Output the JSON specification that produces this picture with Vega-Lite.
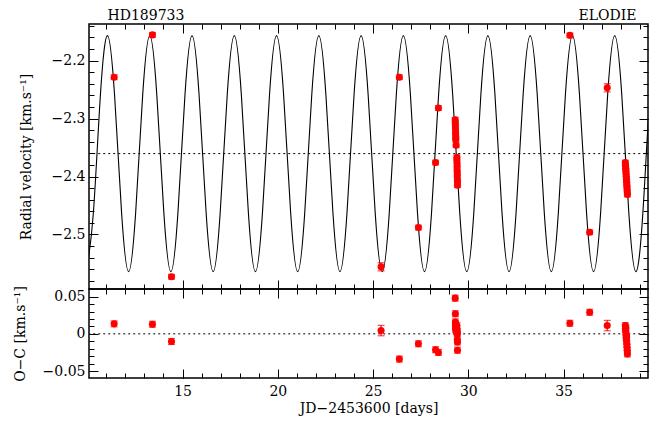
{
  "$schema": "https://vega.github.io/schema/vega-lite/v6.json",
  "background": "white",
  "padding": {"left": 12, "top": 7, "right": 4, "bottom": 4},
  "spacing": 0,
  "bounds": "flush",
  "config": {
    "view": {"stroke": "black", "strokeWidth": 1.5},
    "concat": {"spacing": 0},
    "axis": {
      "domain": false, "grid": false, "ticks": true, "tickColor": "black", "tickWidth": 1,
      "labelFont": "DejaVu Serif", "labelFontSize": 14, "labelColor": "black",
      "titleFont": "DejaVu Serif", "titleFontSize": 14, "titleFontWeight": "normal", "titleColor": "black"
    }
  },
  "datasets": {
    "curve": [
      {"t": 9.951, "rv": -2.564}, {"t": 10.320, "rv": -2.4623}, {"t": 10.690, "rv": -2.2588}, {"t": 11.060, "rv": -2.157},
      {"t": 11.430, "rv": -2.2588}, {"t": 11.800, "rv": -2.4623}, {"t": 12.169, "rv": -2.564}, {"t": 12.539, "rv": -2.4623},
      {"t": 12.909, "rv": -2.2588}, {"t": 13.279, "rv": -2.157}, {"t": 13.648, "rv": -2.2588}, {"t": 14.018, "rv": -2.4623},
      {"t": 14.388, "rv": -2.564}, {"t": 14.758, "rv": -2.4623}, {"t": 15.128, "rv": -2.2588}, {"t": 15.497, "rv": -2.157},
      {"t": 15.867, "rv": -2.2588}, {"t": 16.237, "rv": -2.4623}, {"t": 16.607, "rv": -2.564}, {"t": 16.976, "rv": -2.4623},
      {"t": 17.346, "rv": -2.2588}, {"t": 17.716, "rv": -2.157}, {"t": 18.086, "rv": -2.2588}, {"t": 18.455, "rv": -2.4623},
      {"t": 18.825, "rv": -2.564}, {"t": 19.195, "rv": -2.4623}, {"t": 19.565, "rv": -2.2588}, {"t": 19.934, "rv": -2.157},
      {"t": 20.304, "rv": -2.2588}, {"t": 20.674, "rv": -2.4623}, {"t": 21.044, "rv": -2.564}, {"t": 21.414, "rv": -2.4623},
      {"t": 21.783, "rv": -2.2588}, {"t": 22.153, "rv": -2.157}, {"t": 22.523, "rv": -2.2588}, {"t": 22.893, "rv": -2.4623},
      {"t": 23.262, "rv": -2.564}, {"t": 23.632, "rv": -2.4623}, {"t": 24.002, "rv": -2.2588}, {"t": 24.372, "rv": -2.157},
      {"t": 24.741, "rv": -2.2588}, {"t": 25.111, "rv": -2.4623}, {"t": 25.481, "rv": -2.564}, {"t": 25.851, "rv": -2.4623},
      {"t": 26.220, "rv": -2.2588}, {"t": 26.590, "rv": -2.157}, {"t": 26.960, "rv": -2.2588}, {"t": 27.330, "rv": -2.4623},
      {"t": 27.700, "rv": -2.564}, {"t": 28.069, "rv": -2.4623}, {"t": 28.439, "rv": -2.2588}, {"t": 28.809, "rv": -2.157},
      {"t": 29.179, "rv": -2.2588}, {"t": 29.548, "rv": -2.4623}, {"t": 29.918, "rv": -2.564}, {"t": 30.288, "rv": -2.4623},
      {"t": 30.658, "rv": -2.2588}, {"t": 31.027, "rv": -2.157}, {"t": 31.397, "rv": -2.2588}, {"t": 31.767, "rv": -2.4623},
      {"t": 32.137, "rv": -2.564}, {"t": 32.506, "rv": -2.4623}, {"t": 32.876, "rv": -2.2588}, {"t": 33.246, "rv": -2.157},
      {"t": 33.616, "rv": -2.2588}, {"t": 33.986, "rv": -2.4623}, {"t": 34.355, "rv": -2.564}, {"t": 34.725, "rv": -2.4623},
      {"t": 35.095, "rv": -2.2588}, {"t": 35.465, "rv": -2.157}, {"t": 35.834, "rv": -2.2588}, {"t": 36.204, "rv": -2.4623},
      {"t": 36.574, "rv": -2.564}, {"t": 36.944, "rv": -2.4623}, {"t": 37.313, "rv": -2.2588}, {"t": 37.683, "rv": -2.157},
      {"t": 38.053, "rv": -2.2588}, {"t": 38.423, "rv": -2.4623}, {"t": 38.793, "rv": -2.564}, {"t": 39.162, "rv": -2.4623},
      {"t": 39.532, "rv": -2.2588}, {"t": 39.902, "rv": -2.157}
    ],
    "meanline": [{"t": 9, "rv": -2.3605}, {"t": 41, "rv": -2.3605}],
    "zeroline": [{"t": 9, "oc": 0}, {"t": 41, "oc": 0}],
    "obs": [
      {"t": 11.41, "rv": -2.2287, "err": 0.004, "oc": 0.0134},
      {"t": 13.42, "rv": -2.1558, "err": 0.004, "oc": 0.0129},
      {"t": 14.42, "rv": -2.5728, "err": 0.004, "oc": -0.0103},
      {"t": 25.42, "rv": -2.5557, "err": 0.007, "oc": 0.0044},
      {"t": 26.38, "rv": -2.2287, "err": 0.004, "oc": -0.034},
      {"t": 27.38, "rv": -2.488, "err": 0.004, "oc": -0.0134},
      {"t": 28.28, "rv": -2.376, "err": 0.004, "oc": -0.0214},
      {"t": 28.43, "rv": -2.282, "err": 0.004, "oc": -0.025},
      {"t": 29.31, "rv": -2.302, "err": 0.004, "oc": 0.048},
      {"t": 29.32, "rv": -2.308, "err": 0.004, "oc": 0.027},
      {"t": 29.32, "rv": -2.314, "err": 0.004, "oc": 0.016},
      {"t": 29.33, "rv": -2.320, "err": 0.004, "oc": 0.013},
      {"t": 29.33, "rv": -2.326, "err": 0.004, "oc": 0.010},
      {"t": 29.34, "rv": -2.332, "err": 0.004, "oc": 0.008},
      {"t": 29.34, "rv": -2.336, "err": 0.004, "oc": 0.006},
      {"t": 29.36, "rv": -2.346, "err": 0.004, "oc": 0.004},
      {"t": 29.40, "rv": -2.367, "err": 0.004, "oc": 0.011},
      {"t": 29.40, "rv": -2.373, "err": 0.004, "oc": 0.007},
      {"t": 29.41, "rv": -2.380, "err": 0.004, "oc": 0.003},
      {"t": 29.41, "rv": -2.387, "err": 0.004, "oc": 0.002},
      {"t": 29.42, "rv": -2.394, "err": 0.004, "oc": 0.000},
      {"t": 29.42, "rv": -2.401, "err": 0.004, "oc": -0.008},
      {"t": 29.43, "rv": -2.408, "err": 0.004, "oc": -0.011},
      {"t": 29.43, "rv": -2.415, "err": 0.004, "oc": -0.022},
      {"t": 35.33, "rv": -2.1566, "err": 0.004, "oc": 0.0142},
      {"t": 36.37, "rv": -2.496, "err": 0.004, "oc": 0.029},
      {"t": 37.29, "rv": -2.247, "err": 0.007, "oc": 0.0111},
      {"t": 38.24, "rv": -2.376, "err": 0.004, "oc": 0.011},
      {"t": 38.25, "rv": -2.381, "err": 0.004, "oc": 0.006},
      {"t": 38.26, "rv": -2.386, "err": 0.004, "oc": 0.003},
      {"t": 38.27, "rv": -2.390, "err": 0.004, "oc": 0.008},
      {"t": 38.28, "rv": -2.395, "err": 0.004, "oc": -0.002},
      {"t": 38.29, "rv": -2.400, "err": 0.004, "oc": -0.005},
      {"t": 38.30, "rv": -2.405, "err": 0.004, "oc": -0.009},
      {"t": 38.31, "rv": -2.410, "err": 0.004, "oc": -0.004},
      {"t": 38.32, "rv": -2.415, "err": 0.004, "oc": -0.014},
      {"t": 38.33, "rv": -2.420, "err": 0.004, "oc": -0.018},
      {"t": 38.34, "rv": -2.426, "err": 0.004, "oc": -0.022},
      {"t": 38.35, "rv": -2.431, "err": 0.004, "oc": -0.027}
    ]
  },
  "vconcat": [
    {
      "width": 559,
      "height": 265,
      "resolve": {"axis": {"x": "independent", "y": "independent"}},
      "layer": [
        {
          "data": {"name": "curve"},
          "mark": {"type": "line", "interpolate": "natural", "color": "black", "strokeWidth": 1.1, "clip": true},
          "encoding": {
            "x": {"field": "t", "type": "quantitative", "scale": {"domain": [10.09, 39.43], "nice": false, "zero": false},
                  "axis": {"orient": "bottom", "values": [15, 20, 25, 30, 35], "labels": false, "tickSize": -9, "title": null}},
            "y": {"field": "rv", "type": "quantitative", "scale": {"domain": [-2.594, -2.137], "nice": false, "zero": false},
                  "axis": {"orient": "left", "values": [-2.5, -2.4, -2.3, -2.2], "format": ".1f", "tickSize": -9, "labelPadding": 13,
                           "title": "Radial velocity [km.s⁻¹]", "titlePadding": 18}}
          }
        },
        {
          "data": {"name": "meanline"},
          "mark": {"type": "line", "color": "black", "strokeWidth": 1, "strokeDash": [2, 3], "clip": true},
          "encoding": {
            "x": {"field": "t", "type": "quantitative", "scale": {"domain": [10.09, 39.43], "nice": false, "zero": false},
                  "axis": {"orient": "bottom", "values": [11,12,13,14,15,16,17,18,19,20,21,22,23,24,25,26,27,28,29,30,31,32,33,34,35,36,37,38,39], "labels": false, "tickSize": -5, "title": null}},
            "y": {"field": "rv", "type": "quantitative", "scale": {"domain": [-2.594, -2.137], "nice": false, "zero": false},
                  "axis": {"orient": "left", "values": [-2.58,-2.56,-2.54,-2.52,-2.5,-2.48,-2.46,-2.44,-2.42,-2.4,-2.38,-2.36,-2.34,-2.32,-2.3,-2.28,-2.26,-2.24,-2.22,-2.2,-2.18,-2.16,-2.14], "labels": false, "tickSize": -5, "title": null}}
          }
        },
        {
          "data": {"name": "obs"},
          "mark": {"type": "errorbar", "ticks": {"size": 7}, "color": "#ff0000", "thickness": 1.2, "clip": true},
          "encoding": {
            "x": {"field": "t", "type": "quantitative", "scale": {"domain": [10.09, 39.43], "nice": false, "zero": false}, "axis": null},
            "y": {"field": "rv", "type": "quantitative", "scale": {"domain": [-2.594, -2.137], "nice": false, "zero": false}, "axis": null},
            "yError": {"field": "err"}
          }
        },
        {
          "data": {"name": "obs"},
          "mark": {"type": "circle", "color": "#ff0000", "size": 50, "opacity": 1},
          "encoding": {
            "x": {"field": "t", "type": "quantitative", "scale": {"domain": [10.09, 39.43], "nice": false, "zero": false},
                  "axis": {"orient": "top", "values": [15, 20, 25, 30, 35], "labels": false, "tickSize": -9,
                           "title": "ELODIE", "titleX": 547, "titleAlign": "right", "titleBaseline": "alphabetic", "titlePadding": 4}},
            "y": {"field": "rv", "type": "quantitative", "scale": {"domain": [-2.594, -2.137], "nice": false, "zero": false},
                  "axis": {"orient": "right", "values": [-2.5, -2.4, -2.3, -2.2], "labels": false, "tickSize": -9, "title": null}}
          }
        },
        {
          "data": {"name": "obs"},
          "mark": {"type": "point", "opacity": 0},
          "encoding": {
            "x": {"field": "t", "type": "quantitative", "scale": {"domain": [10.09, 39.43], "nice": false, "zero": false},
                  "axis": {"orient": "top", "values": [11,12,13,14,15,16,17,18,19,20,21,22,23,24,25,26,27,28,29,30,31,32,33,34,35,36,37,38,39], "labels": false, "tickSize": -5,
                           "title": "HD189733", "titleX": 18, "titleAlign": "left", "titleBaseline": "alphabetic", "titlePadding": 4}},
            "y": {"field": "rv", "type": "quantitative", "scale": {"domain": [-2.594, -2.137], "nice": false, "zero": false},
                  "axis": {"orient": "right", "values": [-2.58,-2.56,-2.54,-2.52,-2.5,-2.48,-2.46,-2.44,-2.42,-2.4,-2.38,-2.36,-2.34,-2.32,-2.3,-2.28,-2.26,-2.24,-2.22,-2.2,-2.18,-2.16,-2.14], "labels": false, "tickSize": -5, "title": null}}
          }
        }
      ]
    },
    {
      "width": 559,
      "height": 89,
      "resolve": {"axis": {"x": "independent", "y": "independent"}},
      "layer": [
        {
          "data": {"name": "zeroline"},
          "mark": {"type": "line", "color": "black", "strokeWidth": 1, "strokeDash": [2, 3], "clip": true},
          "encoding": {
            "x": {"field": "t", "type": "quantitative", "scale": {"domain": [10.09, 39.43], "nice": false, "zero": false},
                  "axis": {"orient": "bottom", "values": [15, 20, 25, 30, 35], "format": "d", "tickSize": -9, "labelPadding": 15,
                           "title": "JD−2453600 [days]", "titlePadding": 3}},
            "y": {"field": "oc", "type": "quantitative", "scale": {"domain": [-0.0594, 0.0603], "nice": false, "zero": false},
                  "axis": {"orient": "left", "values": [-0.05, 0, 0.05], "labelExpr": "datum.value == 0 ? '0' : format(datum.value, '.2f')",
                           "tickSize": -9, "labelPadding": 13, "title": "O−C [km.s⁻¹]", "titlePadding": 15}}
          }
        },
        {
          "data": {"name": "obs"},
          "mark": {"type": "errorbar", "ticks": {"size": 7}, "color": "#ff0000", "thickness": 1.2, "clip": true},
          "encoding": {
            "x": {"field": "t", "type": "quantitative", "scale": {"domain": [10.09, 39.43], "nice": false, "zero": false}, "axis": null},
            "y": {"field": "oc", "type": "quantitative", "scale": {"domain": [-0.0594, 0.0603], "nice": false, "zero": false}, "axis": null},
            "yError": {"field": "err"}
          }
        },
        {
          "data": {"name": "obs"},
          "mark": {"type": "circle", "color": "#ff0000", "size": 50, "opacity": 1},
          "encoding": {
            "x": {"field": "t", "type": "quantitative", "scale": {"domain": [10.09, 39.43], "nice": false, "zero": false},
                  "axis": {"orient": "bottom", "values": [11,12,13,14,15,16,17,18,19,20,21,22,23,24,25,26,27,28,29,30,31,32,33,34,35,36,37,38,39], "labels": false, "tickSize": -5, "title": null}},
            "y": {"field": "oc", "type": "quantitative", "scale": {"domain": [-0.0594, 0.0603], "nice": false, "zero": false},
                  "axis": {"orient": "left", "values": [-0.05,-0.04,-0.03,-0.02,-0.01,0,0.01,0.02,0.03,0.04,0.05], "labels": false, "tickSize": -5, "title": null}}
          }
        },
        {
          "data": {"name": "obs"},
          "mark": {"type": "point", "opacity": 0},
          "encoding": {
            "x": {"field": "t", "type": "quantitative", "scale": {"domain": [10.09, 39.43], "nice": false, "zero": false},
                  "axis": {"orient": "top", "values": [15, 20, 25, 30, 35], "labels": false, "tickSize": -9, "title": null}},
            "y": {"field": "oc", "type": "quantitative", "scale": {"domain": [-0.0594, 0.0603], "nice": false, "zero": false},
                  "axis": {"orient": "right", "values": [-0.05, 0, 0.05], "labels": false, "tickSize": -9, "title": null}}
          }
        },
        {
          "data": {"name": "obs"},
          "mark": {"type": "point", "opacity": 0},
          "encoding": {
            "x": {"field": "t", "type": "quantitative", "scale": {"domain": [10.09, 39.43], "nice": false, "zero": false},
                  "axis": {"orient": "top", "values": [11,12,13,14,15,16,17,18,19,20,21,22,23,24,25,26,27,28,29,30,31,32,33,34,35,36,37,38,39], "labels": false, "tickSize": -5, "title": null}},
            "y": {"field": "oc", "type": "quantitative", "scale": {"domain": [-0.0594, 0.0603], "nice": false, "zero": false},
                  "axis": {"orient": "right", "values": [-0.05,-0.04,-0.03,-0.02,-0.01,0,0.01,0.02,0.03,0.04,0.05], "labels": false, "tickSize": -5, "title": null}}
          }
        }
      ]
    }
  ]
}
